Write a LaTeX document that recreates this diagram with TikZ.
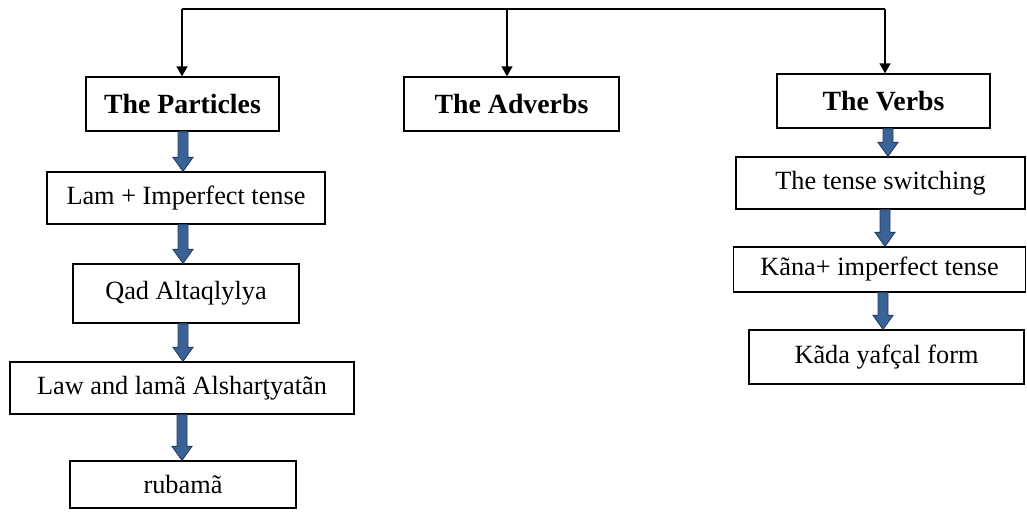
\documentclass[tikz,border=0pt]{standalone}
\usepackage{fontspec}
\setmainfont{Liberation Serif}
\usetikzlibrary{calc,arrows.meta}
\definecolor{arrowblue}{HTML}{3A6296}
\definecolor{arrowdark}{HTML}{263F60}
\begin{document}
\begin{tikzpicture}[x=1pt,y=-1pt,
  box/.style={draw=black,line width=1.3pt,fill=white,inner sep=0pt,anchor=center,
    font=\fontsize{26.3}{30}\selectfont},
  head/.style={box,font=\fontsize{27.8}{30}\selectfont\bfseries},
  thin/.style={line width=1.3pt,draw=black},
  tip/.style={thin,-{Triangle[length=10pt,width=11pt]}},
  blk/.style={fill=arrowblue,draw=arrowdark,line width=0.9pt,
    to path={let \p1=(\tikztostart), \p2=(\tikztotarget) in
      (\x1-5pt,\y1) -- (\x1+5pt,\y1) -- (\x1+5pt,\y2+14pt) -- (\x1+10pt,\y2+14pt)
      -- (\x1,\y2) -- (\x1-10pt,\y2+14pt) -- (\x1-5pt,\y2+14pt) -- cycle}}]
\useasboundingbox (0,0) rectangle (1027,512);

% headings
\node[head,minimum width=193pt,minimum height=54pt] (P) at (182.5,104) {The Particles};
\node[head,minimum width=215pt,minimum height=54pt] (A) at (511.5,104) {The Adverbs};
\node[head,minimum width=213pt,minimum height=54pt] (V) at (883.5,101) {The Verbs};

% left column
\node[box,minimum width=278pt,minimum height=52pt] (L1) at (186,198) {Lam + Imperfect tense};
\node[box,minimum width=226pt,minimum height=59pt] (L2) at (186,293.5) {Qad Altaqlylya};
\node[box,minimum width=344pt,minimum height=52pt] (L3) at (182,388) {Law and lamã Alsharţyatãn};
\node[box,minimum width=226pt,minimum height=47pt] (L4) at (183,484.5) {rubamã};

% right column
\node[box,minimum width=289pt,minimum height=52pt] (R1) at (880.5,183) {The tense switching};
\node[box,minimum width=292pt,minimum height=45pt] (R2) at (879.5,269.5) {Kãna+ imperfect tense};
\node[box,minimum width=275pt,minimum height=54pt] (R3) at (886.5,357) {Kãda yafçal form};

% top connector
\coordinate (t1) at (182,9);
\coordinate (t2) at (507,9);
\coordinate (t3) at (885,9);
\draw[thin] (t1) -- (t3);
\draw[tip] (t1) -- (t1 |- P.north);
\draw[tip] (t2) -- (t2 |- A.north);
\draw[tip] (t3) -- (t3 |- V.north);

% block arrows
\draw[blk] ([xshift=0.5pt]P.south) to ([xshift=0.5pt]P.south |- L1.north);
\draw[blk] ([xshift=-3pt]L1.south) to ([xshift=-3pt]L1.south |- L2.north);
\draw[blk] ([xshift=-3pt]L2.south) to ([xshift=-3pt]L2.south |- L3.north);
\draw[blk] (L3.south) to (L3.south |- L4.north);
\draw[blk] ([xshift=4.5pt]V.south) to ([xshift=4.5pt]V.south |- R1.north);
\draw[blk] ([xshift=4.5pt]R1.south) to ([xshift=4.5pt]R1.south |- R2.north);
\draw[blk] ([xshift=3.5pt]R2.south) to ([xshift=3.5pt]R2.south |- R3.north);
\end{tikzpicture}
\end{document}
